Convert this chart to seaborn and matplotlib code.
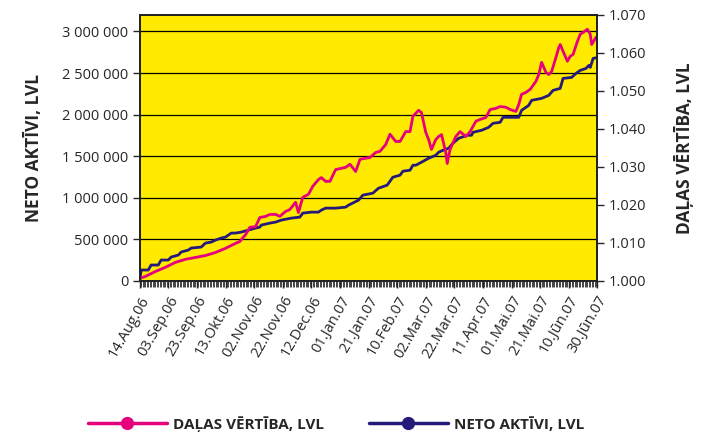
import numpy as np
import pandas as pd
import matplotlib
matplotlib.use("Agg")
import matplotlib.pyplot as plt
import matplotlib.dates as mdates
import seaborn as sns

sns.set_style("white")
plt.rcParams["font.family"] = ["Open Sans", "DejaVu Sans"]

# %% data
start = pd.Timestamp("2006-08-14")

# DAĻAS VĒRTĪBA (right axis), days since 14.Aug.06
unit_days = [0, 4, 11, 18, 25, 32, 39, 46, 53, 60, 67, 70, 74, 77, 81, 84, 88, 91,
             95, 98, 102, 105, 109, 111, 114, 118, 121, 125, 127, 130, 133, 137,
             144, 147, 151, 154, 161, 165, 168, 172, 175, 179, 182, 186, 189, 191,
             195, 197, 200, 202, 204, 207, 209, 211, 214, 215, 217, 221, 224, 228,
             231, 235, 238, 242, 245, 249, 252, 256, 259, 263, 265, 267, 270, 273,
             277, 279, 281, 284, 286, 288, 291, 293, 294, 296, 299, 301, 303, 306,
             308, 310, 313, 315, 316, 319, 320]
unit_vals = [1.0007, 1.0012, 1.0025, 1.0036, 1.0049, 1.0057, 1.0062, 1.0067, 1.0075,
             1.0086, 1.0099, 1.0104, 1.0122, 1.0141, 1.0143, 1.0167, 1.0170, 1.0175,
             1.0175, 1.0170, 1.0183, 1.0188, 1.0207, 1.0180, 1.0220, 1.0228, 1.0249,
             1.0267, 1.0272, 1.0262, 1.0262, 1.0293, 1.0299, 1.0307, 1.0288, 1.0320,
             1.0325, 1.0338, 1.0341, 1.0359, 1.0386, 1.0367, 1.0367, 1.0393, 1.0393,
             1.0433, 1.0449, 1.0443, 1.0391, 1.0372, 1.0346, 1.0372, 1.0380, 1.0385,
             1.0338, 1.0309, 1.0346, 1.0380, 1.0393, 1.0380, 1.0393, 1.0420, 1.0425,
             1.0430, 1.0451, 1.0454, 1.0459, 1.0457, 1.0451, 1.0446, 1.0464, 1.0491,
             1.0496, 1.0504, 1.0525, 1.0543, 1.0575, 1.0549, 1.0543, 1.0551, 1.0588,
             1.0614, 1.0622, 1.0604, 1.0578, 1.0591, 1.0596, 1.0630, 1.0649, 1.0654,
             1.0662, 1.0649, 1.0622, 1.0641, 1.0641]

# NETO AKTĪVI (left axis)
nav_days = [0, 1, 6, 8, 13, 15, 20, 22, 27, 29, 34, 36, 43, 46, 50, 53, 57, 60, 64,
            67, 71, 76, 81, 84, 85, 91, 95, 99, 106, 112, 114, 120, 125, 127, 130,
            137, 144, 146, 153, 156, 163, 167, 173, 177, 182, 184, 189, 191, 193,
            197, 202, 207, 209, 212, 216, 219, 223, 229, 232, 233, 239, 244, 247,
            252, 254, 265, 267, 272, 274, 281, 286, 289, 294, 296, 302, 305, 308,
            312, 314, 315, 317, 320]
nav_vals = [0, 132000, 132000, 192000, 192000, 252000, 252000, 288000, 312000,
            348000, 372000, 396000, 408000, 456000, 468000, 492000, 516000, 528000,
            576000, 576000, 588000, 612000, 636000, 648000, 672000, 696000, 708000,
            732000, 756000, 768000, 816000, 828000, 828000, 852000, 876000, 876000,
            888000, 912000, 972000, 1032000, 1056000, 1116000, 1152000, 1248000,
            1272000, 1320000, 1332000, 1392000, 1392000, 1428000, 1476000, 1512000,
            1548000, 1572000, 1596000, 1656000, 1716000, 1752000, 1752000, 1788000,
            1812000, 1848000, 1896000, 1908000, 1968000, 1968000, 2052000, 2112000,
            2172000, 2196000, 2232000, 2292000, 2316000, 2436000, 2448000, 2496000,
            2532000, 2556000, 2592000, 2568000, 2676000, 2688000]

tick_labels = ["14.Aug.06", "03.Sep.06", "23.Sep.06", "13.Okt.06", "02.Nov.06",
               "22.Nov.06", "12.Dec.06", "01.Jan.07", "21.Jan.07", "10.Feb.07",
               "02.Mar.07", "22.Mar.07", "11.Apr.07", "01.Mai.07", "21.Mai.07",
               "10.Jūn.07", "30.Jūn.07"]

unit_df = pd.DataFrame({"date": start + pd.to_timedelta(unit_days, unit="D"),
                        "val": unit_vals})
nav_df = pd.DataFrame({"date": start + pd.to_timedelta(nav_days, unit="D"),
                       "val": nav_vals})

pink = "#E6007E"
navy = "#241A7A"

# %% plot
fig = plt.figure(figsize=(7.02, 4.37), dpi=100)
ax = fig.add_axes([0.199, 0.357, 0.652, 0.609])
ax.set_facecolor("#FFEA00")
ax2 = ax.twinx()

sns.lineplot(data=nav_df, x="date", y="val", ax=ax, color=navy, linewidth=2.0)
sns.lineplot(data=unit_df, x="date", y="val", ax=ax2, color=pink, linewidth=2.0)

ax.set_ylim(0, 3200000)
ax.set_yticks(np.arange(0, 3000001, 500000))
ax.set_yticklabels([f"{int(v):,}".replace(",", " ") for v in np.arange(0, 3000001, 500000)])
ax.yaxis.grid(True, color="black", linewidth=0.9)
ax.set_axisbelow(True)

ax2.set_ylim(1.0, 1.07)
ax2.set_yticks(np.arange(1.0, 1.0701, 0.01))
ax2.set_yticklabels([f"{v:.3f}" for v in np.arange(1.0, 1.0701, 0.01)])

tick_dates = [start + pd.Timedelta(days=20 * i) for i in range(len(tick_labels))]
ax.set_xlim(start, start + pd.Timedelta(days=320))
ax.set_xticks(tick_dates)
ax.set_xticklabels(tick_labels, rotation=60, ha="right", rotation_mode="anchor")
ax.xaxis.set_minor_locator(mdates.DayLocator())

for a in (ax, ax2):
    for s in a.spines.values():
        s.set_color("#222222")
        s.set_linewidth(1.3)
    a.set_xlabel("")
    a.set_ylabel("")

ax.tick_params(axis="y", direction="out", length=5, width=1, labelsize=10.5,
               left=True, pad=3)
ax2.tick_params(axis="y", direction="out", length=5, width=1, labelsize=10.5,
                right=True, pad=3)
ax.tick_params(axis="x", which="major", direction="out", length=5, width=1,
               labelsize=10.5, bottom=True, pad=4)
ax.tick_params(axis="x", which="minor", direction="out", length=4, width=0.6,
               bottom=True)

ax.set_ylabel("NETO AKTĪVI, LVL", fontsize=12.5, fontweight="bold", labelpad=14)
ax2.set_ylabel("DAĻAS VĒRTĪBA, LVL", fontsize=12.5, fontweight="bold", labelpad=20)

handles = [plt.Line2D([], [], color=pink, linewidth=2.5, marker="o", markersize=8.5),
           plt.Line2D([], [], color=navy, linewidth=2.5, marker="o", markersize=8.5)]
fig.legend(handles, ["DAĻAS VĒRTĪBA, LVL", "NETO AKTĪVI, LVL"], loc="center left",
           bbox_to_anchor=(0.125, 0.03), ncol=2, frameon=False, handlelength=5.2,
           columnspacing=2.9, handletextpad=0.4, borderpad=0, borderaxespad=0,
           prop={"weight": "bold", "size": 11})

fig.savefig("out.png", dpi=100)
